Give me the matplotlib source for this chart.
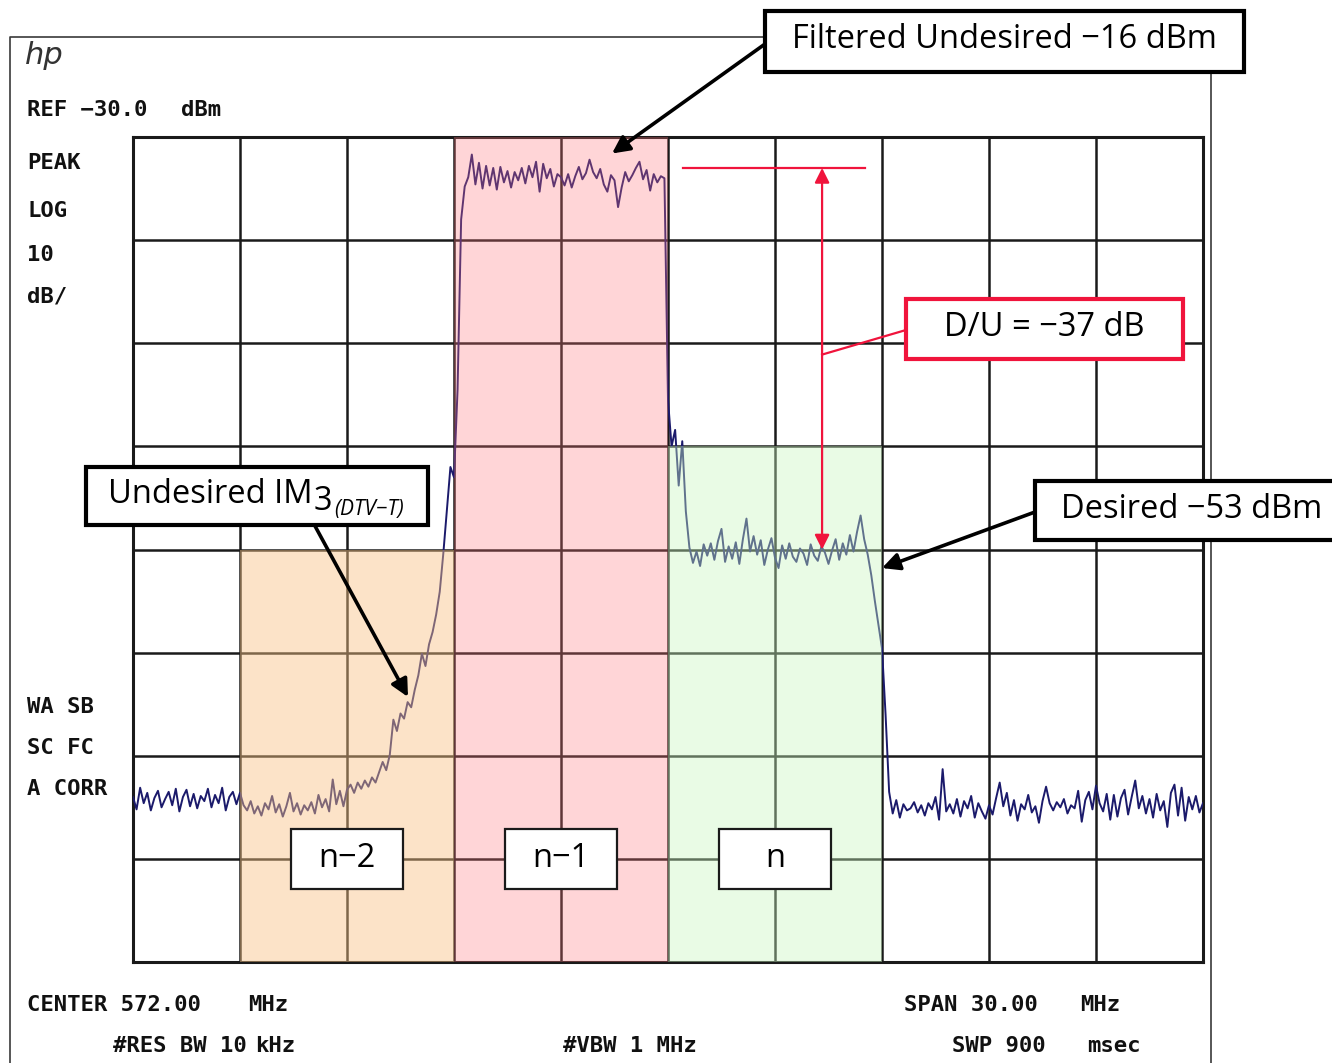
import numpy as np
import matplotlib
matplotlib.use("Agg")
import matplotlib.pyplot as plt
from matplotlib.patches import Rectangle

# Sweep settings (MHz) and display scale (dBm)
f_start = 557.0
f_step = 0.1
ref_level = -30.0
bottom_level = -110.0

# Trace levels in dBm, one row per MHz starting at 557 MHz
level = [
    -94.0, -95.2, -93.1, -94.6, -93.6, -95.3, -94.1, -93.4, -95.0, -94.2,
    -93.5, -94.8, -93.2, -95.4, -94.0, -93.3, -94.9, -93.7, -95.1, -93.9,
    -94.4, -93.2, -95.0, -93.8, -94.6, -93.1, -95.3, -94.0, -93.5, -94.7,
    -93.6, -94.8, -95.3, -94.4, -95.6, -94.9, -95.8, -94.6, -95.2, -93.9,
    -95.5, -94.7, -95.9, -94.9, -93.6, -95.4, -94.6, -95.7, -94.8, -95.3,
    -94.5, -95.6, -93.8, -95.0, -94.2, -95.4, -92.3, -94.7, -93.4, -94.9,
    -93.3, -92.8, -93.6, -92.6, -93.2, -92.4, -93.0, -92.1, -92.6, -91.6,
    -90.6, -91.4, -89.9, -86.5, -87.6, -85.9, -86.4, -84.8, -85.3, -83.6,
    -82.2, -80.1, -81.3, -79.2, -78.0, -76.3, -74.1, -70.4, -66.2, -62.0,
    -63.0, -54.5, -38.0, -34.8, -33.9, -31.7, -34.6, -32.5, -35.0, -32.8,
    -34.7, -33.0, -35.1, -32.9, -34.4, -33.3, -34.9, -33.4, -34.2, -33.0,
    -34.5, -32.8, -33.9, -32.4, -35.3, -32.6, -34.0, -33.1, -34.8, -33.6,
    -33.9, -34.7, -33.6, -34.9, -33.8, -32.9, -34.1, -33.5, -32.2, -33.4,
    -34.0, -33.1, -34.6, -35.3, -33.7, -34.2, -36.8, -34.9, -33.4, -34.3,
    -33.7, -33.0, -32.4, -34.1, -33.2, -35.2, -33.6, -34.4, -33.8, -34.0,
    -55.5, -60.0, -58.4, -63.8, -59.5, -66.3, -69.8, -71.3, -70.2, -71.6,
    -69.5, -70.6, -69.4, -71.0, -69.2, -68.0, -71.2, -69.7, -70.9, -69.3,
    -71.4, -69.0, -67.0, -70.2, -68.7, -70.5, -69.1, -71.5, -70.0, -68.9,
    -70.8, -71.8, -69.6, -70.9, -69.4, -70.7, -71.2, -69.9, -70.4, -71.5,
    -69.5, -70.6, -71.1, -69.7, -70.3, -71.4, -70.1, -69.0, -71.0, -69.4,
    -70.5, -68.6, -70.2, -68.3, -66.7, -69.0, -70.5, -72.5, -75.0, -77.3,
    -79.6, -86.0, -93.5, -95.6, -94.3, -96.0, -94.7, -95.3, -95.1, -94.5,
    -95.5, -94.8, -95.8, -94.6, -95.2, -94.0, -96.2, -91.3, -95.4, -94.7,
    -95.6, -94.2, -95.9, -94.4, -95.1, -93.9, -96.0, -94.6, -95.4, -96.1,
    -94.8, -95.7, -94.1, -92.6, -94.9, -93.6, -95.8, -94.3, -96.3, -94.7,
    -95.2, -93.8, -95.5, -94.9, -96.5, -94.4, -93.0, -94.6, -95.3, -94.5,
    -95.0, -94.2, -95.6, -94.8, -95.1, -93.4, -96.4, -94.3, -93.5, -95.2,
    -92.9, -94.6, -95.4, -93.7, -96.2, -93.8, -95.9, -94.1, -93.3, -95.7,
    -94.0, -92.4, -95.1, -93.9, -95.6, -94.2, -96.0, -93.7, -95.3, -94.4,
    -96.9, -93.6, -92.8, -95.8, -93.1, -96.3, -94.0, -95.2, -93.9, -95.5,
    -94.6,
]
freq = f_start + f_step * np.arange(len(level))

# Channels: name, lower edge, upper edge (MHz), shading top (dBm)
chan_names = ["n\u22122", "n\u22121", "n"]
chan_lo = [560.0, 566.0, 572.0]
chan_hi = [566.0, 572.0, 578.0]
chan_top = [-70.0, -30.0, -60.0]
chan_colors = ["#f9c385", "#ff767d", "#caf7c0"]
chan_alpha = [0.45, 0.30, 0.40]

# D/U marker levels
undesired_level = -33.0
desired_level = -70.0
du_freq = 576.32

W, H = 1332, 1063
fig = plt.figure(figsize=(W / 100, H / 100), dpi=100)
fig.patch.set_facecolor("white")

# spectrum grid
ax = fig.add_axes([133 / W, (H - 962) / H, 1070 / W, 825 / H])
ax.set_xlim(557, 587)
ax.set_ylim(bottom_level, ref_level)
ax.set_xticks(np.arange(557, 587.1, 3))
ax.set_yticks(np.arange(-110, -29, 10))
ax.tick_params(length=0, labelbottom=False, labelleft=False)
ax.grid(True, color="#1a1a1a", lw=1.8)
ax.set_axisbelow(True)
for s in ax.spines.values():
    s.set_linewidth(2.2)
    s.set_color("#1a1a1a")

ax.plot(freq, level, color="#1b1a6b", lw=1.4, zorder=3)

for lo, hi, top, c, a in zip(chan_lo, chan_hi, chan_top, chan_colors, chan_alpha):
    ax.add_patch(Rectangle((lo, bottom_level), hi - lo, top - bottom_level,
                           facecolor=c, alpha=a, edgecolor="none", zorder=4))

lab = dict(family=["Open Sans", "DejaVu Sans"], fontsize=23.5, color="black")

# channel name boxes
for name, lo, hi in zip(chan_names, chan_lo, chan_hi):
    fc = (lo + hi) / 2
    ax.add_patch(Rectangle((fc - 1.58, -102.9), 3.16, 5.8, facecolor="white",
                           edgecolor="#1a1a1a", lw=1.6, zorder=6))
    ax.text(fc, -100.0, name, ha="center", va="center", zorder=7, **lab)

# D/U marker
red = "#f0143c"
ax.plot([572.43, 577.52], [undesired_level, undesired_level], color=red, lw=1.6, zorder=6)
ax.annotate("", xy=(du_freq, desired_level), xytext=(du_freq, undesired_level),
            arrowprops=dict(arrowstyle="<|-|>", color=red, lw=1.6, mutation_scale=22,
                            shrinkA=0, shrinkB=0), zorder=6)

# overlay in pixel coordinates for the instrument text and callouts
ov = fig.add_axes([0, 0, 1, 1])
ov.set_xlim(0, W)
ov.set_ylim(H, 0)
ov.axis("off")
ov.set_zorder(5)
ov.patch.set_visible(False)

ov.plot([10, 10, 1211, 1211], [H + 10, 37, 37, H + 10], color="#3a3a3a", lw=1.2,
        clip_on=False, zorder=1)

ov.text(25, 55, "hp", fontsize=22, style="italic", family="DejaVu Sans",
        color="#333333", va="center", ha="left")

mono = dict(family="DejaVu Sans Mono", weight="bold", fontsize=16, color="#111111", va="center")
ov.text(27, 110, "REF \u221230.0", **mono)
ov.text(181, 110, "dBm", **mono)
for txt, y in [("PEAK", 163), ("LOG", 211), ("10", 255), ("dB/", 296),
               ("WA SB", 707), ("SC FC", 748), ("A CORR", 789)]:
    ov.text(27, y, txt, **mono)
ov.text(27, 1005, "CENTER 572.00", **mono)
ov.text(248, 1005, "MHz", **mono)
ov.text(904, 1005, "SPAN 30.00", **mono)
ov.text(1080, 1005, "MHz", **mono)
ov.text(113, 1046, "#RES BW 10", **mono)
ov.text(255, 1046, "kHz", **mono)
ov.text(563, 1046, "#VBW 1 MHz", **mono)
ov.text(952, 1046, "SWP 900", **mono)
ov.text(1087, 1046, "msec", **mono)


def box(x0, y0, x1, y1, ec="black", lw=3.0):
    ov.add_patch(Rectangle((x0, y0), x1 - x0, y1 - y0, facecolor="white",
                           edgecolor=ec, lw=lw, zorder=3, clip_on=False))


arrow = dict(arrowstyle="-|>", color="black", lw=2.6, mutation_scale=26,
             shrinkA=0, shrinkB=0)

# filtered undesired callout
box(765, 11, 1244, 72)
ov.text(1004, 40, "Filtered Undesired \u221216 dBm", ha="center", va="center", zorder=4, **lab)
ov.annotate("", xy=(570.43, -31.6), xycoords=ax.transData, xytext=(765, 44),
            textcoords="data", arrowprops=arrow, zorder=4)

# D/U callout
box(906, 299, 1183, 359, ec=red)
ov.text(1044, 328, "D/U = \u221237 dB", ha="center", va="center", zorder=4, **lab)
p = ax.transData.transform((du_freq, -51.1))
p = ov.transData.inverted().transform(p)
ov.plot([906, p[0]], [330, p[1]], color=red, lw=1.6, zorder=2)

# IM3 callout
box(86, 467, 428, 525)
t1 = ov.text(108, 503, "Undesired IM", ha="left", va="baseline", zorder=4, **lab)
t2 = ov.annotate("3", xy=(1, 0), xycoords=t1, xytext=(1, -7), textcoords="offset pixels",
                 ha="left", va="bottom", zorder=4, **lab)
ov.annotate("(DTV\u2212T)", xy=(1, 0), xycoords=t2, xytext=(2, -2), textcoords="offset pixels",
            ha="left", va="bottom", style="italic", zorder=4,
            family=["Open Sans", "DejaVu Sans"], fontsize=15)
ov.annotate("", xy=(564.71, -84.3), xycoords=ax.transData, xytext=(315, 526),
            textcoords="data", arrowprops=arrow, zorder=4)

# desired callout
box(1035, 481, 1350, 540)
ov.text(1061, 509, "Desired \u221253 dBm", ha="left", va="center", zorder=4, **lab)
ov.annotate("", xy=(578.0, -71.8), xycoords=ax.transData, xytext=(1035, 512),
            textcoords="data", arrowprops=arrow, zorder=4)

fig.savefig("out.png", dpi=100)
